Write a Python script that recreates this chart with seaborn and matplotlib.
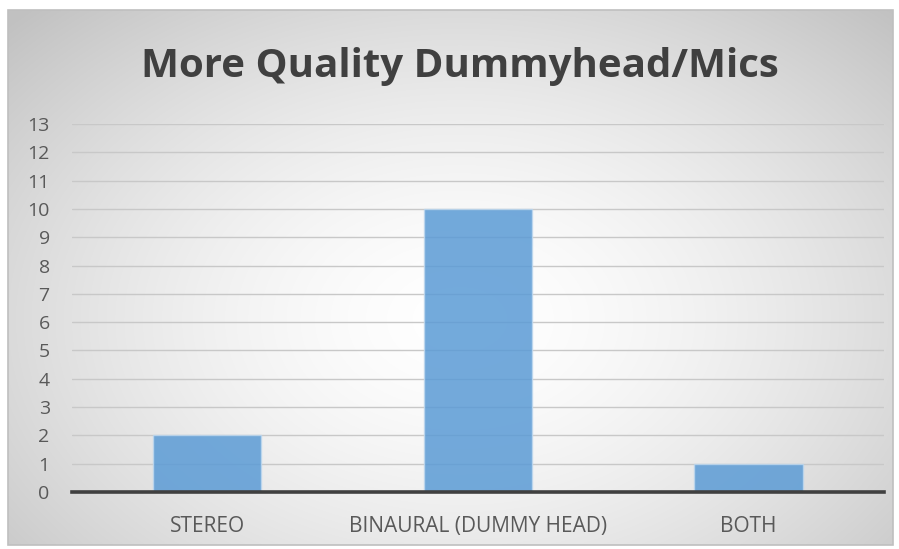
import numpy as np
import pandas as pd
import matplotlib
matplotlib.use("Agg")
import matplotlib.pyplot as plt
import seaborn as sns

categories = ["STEREO", "BINAURAL (DUMMY HEAD)", "BOTH"]
counts = [2, 10, 1]
y_ticks = list(range(0, 14))
title = "More Quality Dummyhead/Mics"

sns.set_theme(style="white")
plt.rcParams["font.family"] = ["Open Sans", "DejaVu Sans"]

fig = plt.figure(figsize=(8.99, 5.49), dpi=100)

# Chart frame with a radial gradient fill
bg = fig.add_axes([0, 0, 1, 1], zorder=0)
bg.set_xlim(0, 899)
bg.set_ylim(549, 0)
bg.axis("off")
x0, x1, y0, y1 = 8, 893, 10, 545
xx, yy = np.meshgrid(np.linspace(x0, x1, 400), np.linspace(y0, y1, 260))
cx, cy = 460, 320
r = np.sqrt(((xx - cx) / 620) ** 2 + ((yy - cy) / 430) ** 2)
shade = 1.0 - 0.24 * np.clip(r, 0, 1) ** 1.6
img = np.dstack([shade, shade, shade])
bg.imshow(img, extent=[x0, x1, y1, y0], aspect="auto", interpolation="bilinear")
bg.add_patch(plt.Rectangle((x0, y0), x1 - x0, y1 - y0, fill=False,
                           edgecolor="#BFBFBF", linewidth=1.2))

ax = fig.add_axes([0.080, 0.1038, 0.903, 0.6702], zorder=1)
ax.patch.set_alpha(0)

df = pd.DataFrame({"category": categories, "count": counts})
sns.barplot(data=df, x="category", y="count", ax=ax, color="#5B9BD5",
            width=0.4, alpha=0.85, edgecolor="#BDD7EE", linewidth=1.0,
            saturation=1, zorder=2)

ax.set_ylim(0, 13)
ax.set_xlim(-0.5, 2.5)
ax.set_yticks(y_ticks)
ax.yaxis.grid(True, color="#C8C8C8", linewidth=1.0, zorder=0)
ax.set_axisbelow(True)
for side in ["top", "right", "left"]:
    ax.spines[side].set_visible(False)
ax.spines["bottom"].set_color("#404040")
ax.spines["bottom"].set_linewidth(2.6)
ax.spines["bottom"].set_zorder(3)
ax.tick_params(axis="both", length=0, labelcolor="#595959")
ax.tick_params(axis="y", pad=16, labelsize=14)
ax.tick_params(axis="x", pad=17, labelsize=15)
ax.set_xlabel("")
ax.set_ylabel("")

fig.text(0.512, 1 - 77 / 549, title, ha="center", va="baseline", fontsize=29,
         fontweight="bold", color="#404040")

fig.savefig("out.png", dpi=100)
